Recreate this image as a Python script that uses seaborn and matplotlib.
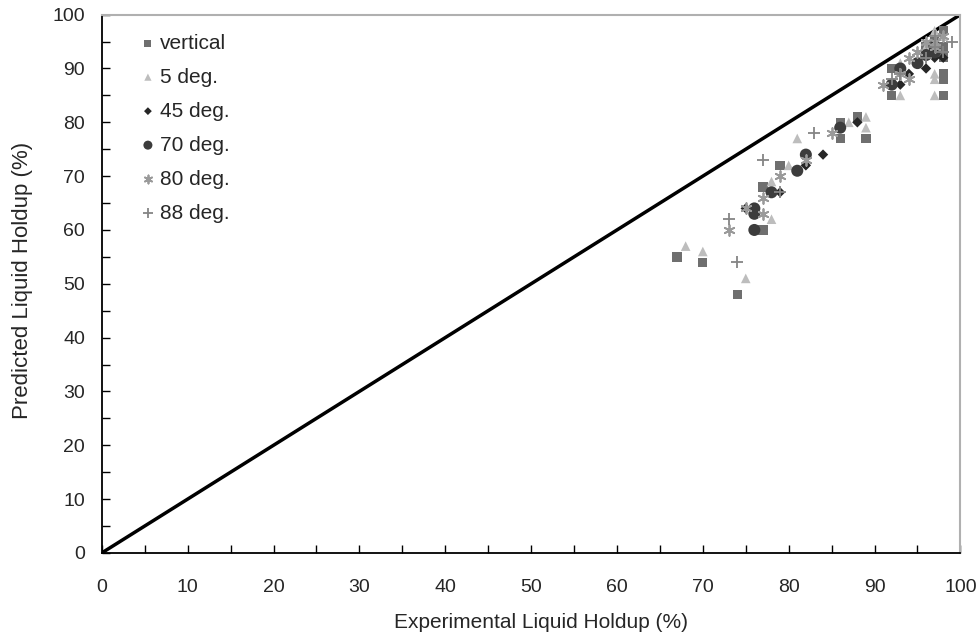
import matplotlib
matplotlib.use("Agg")
import matplotlib.pyplot as plt
import seaborn as sns
import pandas as pd
from matplotlib.ticker import MultipleLocator

sns.set_style("ticks")
plt.rcParams['font.family'] = ['Liberation Sans', 'DejaVu Sans']

series_names = ["vertical", "5 deg.", "45 deg.", "70 deg.", "80 deg.", "88 deg."]

vertical_x = [67, 70, 74, 77, 77, 79, 86, 86, 88, 89, 92, 92, 96, 98, 98, 98, 98, 98, 98, 97, 98]
vertical_y = [55, 54, 48, 60, 68, 72, 80, 77, 81, 77, 85, 90, 94, 85, 89, 88, 97, 94, 93, 95, 92]

deg5_x = [68, 70, 75, 78, 78, 80, 81, 87, 89, 89, 93, 93, 97, 97, 97, 97, 98, 96]
deg5_y = [57, 56, 51, 62, 69, 72, 77, 80, 81, 79, 85, 91, 85, 88, 97, 89, 96, 94]

deg45_x = [75, 79, 82, 84, 88, 93, 94, 96, 97, 98, 97, 95]
deg45_y = [64, 67, 72, 74, 80, 87, 89, 90, 92, 92, 93, 91]

deg70_x = [76, 76, 76, 78, 81, 82, 86, 92, 93, 95, 96, 97, 97]
deg70_y = [60, 63, 64, 67, 71, 74, 79, 87, 90, 91, 92.5, 93, 94]

deg80_x = [73, 75, 77, 77, 79, 82, 85, 91, 94, 94, 95, 96, 97, 98, 93, 97]
deg80_y = [60, 64, 63, 66, 70, 73, 78, 87, 88, 92, 93, 95, 95, 96, 89, 94]

deg88_x = [73, 74, 77, 79, 83, 92, 93, 96, 97, 98, 99, 97]
deg88_y = [62, 54, 73, 67, 78, 88, 89, 92, 94, 93, 95, 96]

xs = [vertical_x, deg5_x, deg45_x, deg70_x, deg80_x, deg88_x]
ys = [vertical_y, deg5_y, deg45_y, deg70_y, deg80_y, deg88_y]

colors = ["#6f6f6f", "#bdbdbd", "#262626", "#3c3c3c", "#9a9a9a", "#858585"]
markers = ["s", "^", "D", "o", (6, 2, 0), "+"]
sizes = [45, 48, 28, 75, 60, 85]

fig = plt.figure(figsize=(9.79, 6.37), dpi=100)
ax = fig.add_axes([0.104, 0.132, 0.877, 0.845])

ax.plot([0, 100], [0, 100], color="black", lw=2.5, marker="o", ms=3, zorder=1)

for name, x, y, c, m, s in zip(series_names, xs, ys, colors, markers, sizes):
    df = pd.DataFrame({"x": x, "y": y})
    kw = dict(edgecolor="none") if m not in ("+", (6, 2, 0)) else dict(linewidth=1.3)
    sns.scatterplot(data=df, x="x", y="y", ax=ax, color=c, marker=m, s=s,
                    label=name, zorder=3, **kw)

ax.set_xlim(0, 100)
ax.set_ylim(0, 100)
ax.xaxis.set_major_locator(MultipleLocator(10))
ax.yaxis.set_major_locator(MultipleLocator(10))
ax.xaxis.set_minor_locator(MultipleLocator(5))
ax.yaxis.set_minor_locator(MultipleLocator(5))
ax.tick_params(which="both", direction="in", labelsize=14, color="black")
ax.tick_params(which="major", length=6, width=1)
ax.tick_params(which="minor", length=6, width=1)
ax.tick_params(axis="x", pad=19)
ax.tick_params(axis="y", pad=12)

for side in ["top", "right"]:
    ax.spines[side].set_visible(True)
    ax.spines[side].set_color("#b0b0b0")
    ax.spines[side].set_linewidth(1.5)
for side in ["left", "bottom"]:
    ax.spines[side].set_color("black")
    ax.spines[side].set_linewidth(1.3)

ax.set_xlabel("Experimental Liquid Holdup (%)", fontsize=15, labelpad=12, x=0.512)
ax.set_ylabel("Predicted Liquid Holdup (%)", fontsize=16, labelpad=14, y=0.507)

leg = ax.legend(loc="upper left", frameon=False, fontsize=15, markerscale=0.75,
                handletextpad=0.1, labelspacing=0.72, borderaxespad=0.2,
                bbox_to_anchor=(0.027, 0.988), handlelength=1.0)

fig.savefig("out.png", dpi=100)
